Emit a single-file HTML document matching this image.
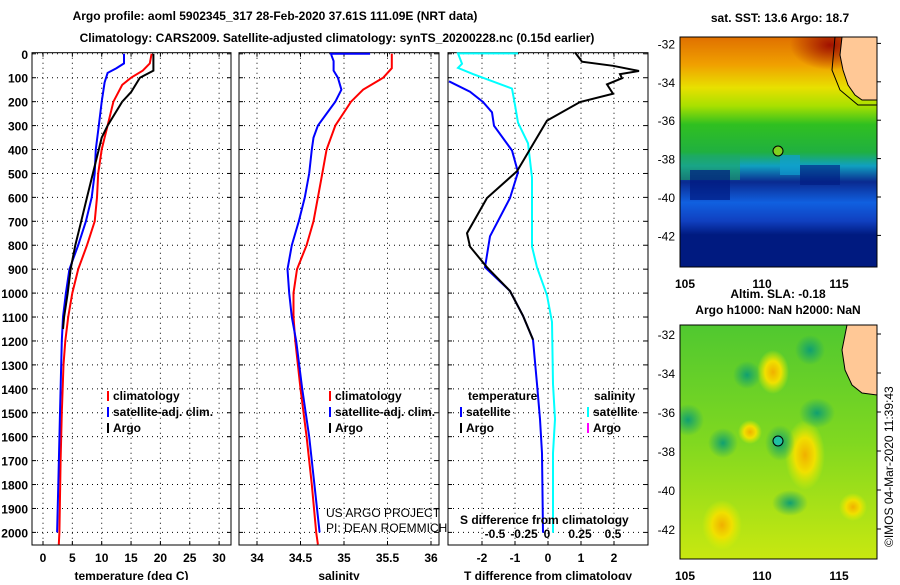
<!DOCTYPE html>
<html><head><meta charset="utf-8"><style>
body{margin:0;background:#fff;width:900px;height:580px;overflow:hidden}
svg text{font-family:"Liberation Sans",Arial,sans-serif;font-weight:bold;font-size:12px}
svg text.n{font-weight:normal}
</style></head><body>
<svg id="s" width="900" height="580" xmlns="http://www.w3.org/2000/svg">
<defs>
<linearGradient id="sst" x1="0" y1="0" x2="0" y2="1">
<stop offset="0" stop-color="#e07000"/><stop offset="0.12" stop-color="#f0a000"/><stop offset="0.22" stop-color="#e8e000"/><stop offset="0.3" stop-color="#a8e000"/><stop offset="0.38" stop-color="#30c020"/><stop offset="0.5" stop-color="#20b040"/><stop offset="0.56" stop-color="#10a0c0"/><stop offset="0.63" stop-color="#0a2a90"/><stop offset="0.72" stop-color="#1060e0"/><stop offset="0.8" stop-color="#1040c0"/><stop offset="0.86" stop-color="#001a80"/><stop offset="1" stop-color="#001a80"/>
</linearGradient>
<linearGradient id="sla" x1="0" y1="0" x2="0" y2="1">
<stop offset="0" stop-color="#50c830"/><stop offset="0.5" stop-color="#80d820"/><stop offset="1" stop-color="#c8e810"/>
</linearGradient>
<radialGradient id="gb"><stop offset="0" stop-color="#10a070"/><stop offset="1" stop-color="#10a070" stop-opacity="0"/></radialGradient>
<radialGradient id="yb"><stop offset="0" stop-color="#f0b000"/><stop offset="0.5" stop-color="#f0e000"/><stop offset="1" stop-color="#e0f000" stop-opacity="0"/></radialGradient>
<radialGradient id="rb"><stop offset="0" stop-color="#a01000"/><stop offset="1" stop-color="#a01000" stop-opacity="0"/></radialGradient>
<clipPath id="c1"><rect x="680" y="37" width="197" height="230"/></clipPath>
<clipPath id="c2"><rect x="680" y="325" width="197" height="234"/></clipPath>
</defs>
<text x="275" y="20" text-anchor="middle" font-size="13">Argo profile: aoml 5902345_317 28-Feb-2020 37.61S 111.09E (NRT data)</text>
<text x="337" y="42" text-anchor="middle" font-size="13">Climatology: CARS2009. Satellite-adjusted climatology: synTS_20200228.nc (0.15d earlier)</text>
<g id="p"></g>
<text x="780" y="22" text-anchor="middle">sat. SST: 13.6 Argo: 18.7</text>
<g clip-path="url(#c1)">
<rect x="680" y="37" width="197" height="230" fill="url(#sst)"/>
<ellipse cx="830" cy="45" rx="40" ry="25" fill="url(#rb)"/>
<rect x="680" y="155" width="60" height="25" fill="#20a860" opacity="0.6"/>
<rect x="690" y="170" width="40" height="30" fill="#001a80" opacity="0.7"/>
<rect x="780" y="155" width="20" height="20" fill="#10a0d0" opacity="0.7"/>
<rect x="800" y="165" width="40" height="20" fill="#001a80" opacity="0.6"/>
<path d="M842,37 L877,37 L877,100 L862,100 L855,95 L848,85 L843,70 L840,55 Z" fill="#ffc896" stroke="#000" stroke-width="1"/>
<path d="M835,37 L832,70 L840,90 L858,105 L877,105" fill="none" stroke="#000" stroke-width="1"/>
</g>
<circle cx="778" cy="151" r="5" fill="#80d020" stroke="#000"/>
<rect x="680" y="37" width="197" height="230" fill="none" stroke="#000"/>
<text x="778" y="298" text-anchor="middle">Altim. SLA: -0.18</text>
<text x="778" y="314" text-anchor="middle">Argo h1000: NaN h2000: NaN</text>
<g clip-path="url(#c2)">
<rect x="680" y="325" width="197" height="234" fill="url(#sla)"/>
<ellipse cx="773" cy="372" rx="16" ry="22" fill="url(#yb)"/>
<ellipse cx="750" cy="432" rx="12" ry="12" fill="url(#yb)"/>
<ellipse cx="805" cy="455" rx="20" ry="35" fill="url(#yb)"/>
<ellipse cx="853" cy="507" rx="14" ry="14" fill="url(#yb)"/>
<ellipse cx="722" cy="525" rx="20" ry="25" fill="url(#yb)"/>
<ellipse cx="747" cy="375" rx="14" ry="14" fill="url(#gb)"/>
<ellipse cx="688" cy="420" rx="16" ry="16" fill="url(#gb)"/>
<ellipse cx="723" cy="443" rx="15" ry="15" fill="url(#gb)"/>
<ellipse cx="780" cy="443" rx="15" ry="18" fill="url(#gb)"/>
<ellipse cx="817" cy="413" rx="18" ry="15" fill="url(#gb)"/>
<ellipse cx="810" cy="350" rx="15" ry="15" fill="url(#gb)"/>
<ellipse cx="790" cy="503" rx="18" ry="13" fill="url(#gb)"/>
<path d="M847,325 L877,325 L877,395 L862,393 L852,385 L845,370 L842,350 Z" fill="#ffc896" stroke="#000" stroke-width="1"/>
</g>
<circle cx="778" cy="441" r="5" fill="#20c0a0" stroke="#000"/>
<rect x="680" y="325" width="197" height="234" fill="none" stroke="#000"/>
<text class="n" x="893" y="547" transform="rotate(-90 893 547)" font-size="13">©IMOS 04-Mar-2020 11:39:43</text>
</svg>
<script>
(function(){
const NS="http://www.w3.org/2000/svg",g=document.getElementById('p');
function el(t,a,txt){const e=document.createElementNS(NS,t);for(const k in a)e.setAttribute(k,a[k]);if(txt!=null)e.textContent=txt;g.appendChild(e);return e}
const Y=d=>53.8+d*0.2393, T0=52.7,B0=545;
for(let d=0;d<=2000;d+=100){el('text',{x:28,y:Y(d)+5,'text-anchor':'end'},d)}
function panel(x0,x1,ticks,fx,labels,xlab,gridx){
 for(let d=0;d<=2000;d+=100){el('line',{x1:x0,x2:x1,y1:Y(d),y2:Y(d),stroke:'#000','stroke-dasharray':'1,4'});el('line',{x1:x0,x2:x0+4,y1:Y(d),y2:Y(d),stroke:'#000'});el('line',{x1:x1-4,x2:x1,y1:Y(d),y2:Y(d),stroke:'#000'})}
 gridx.forEach(v=>el('line',{x1:fx(v),x2:fx(v),y1:T0,y2:B0,stroke:'#000','stroke-dasharray':'1,4'}));
 ticks.forEach((v,i)=>{el('line',{x1:fx(v),x2:fx(v),y1:B0,y2:B0-4,stroke:'#000'});el('line',{x1:fx(v),x2:fx(v),y1:T0,y2:T0+4,stroke:'#000'});el('text',{x:fx(v),y:562,'text-anchor':'middle'},labels[i])});
 el('rect',{x:x0,y:T0,width:x1-x0,height:B0-T0,fill:'none',stroke:'#000'});
 el('text',{x:(x0+x1)/2,y:580,'text-anchor':'middle'},xlab);
}
function line(pts,fx,col,w){el('polyline',{points:pts.map(p=>fx(p[1]).toFixed(1)+','+Y(p[0]).toFixed(1)).join(' '),fill:'none',stroke:col,'stroke-width':w||2})}
const ft=v=>43+v*5.87;
panel(32,231,[0,5,10,15,20,25,30],ft,['0','5','10','15','20','25','30'],'temperature (deg C)',[0,5,10,15,20,25,30]);
line([[0,18.5],[40,18.2],[70,17],[100,15],[130,13.5],[200,12],[300,11],[350,10.5],[400,10],[500,9.4],[600,9.2],[700,8.8],[800,7.5],[900,6],[1000,5],[1100,4.3],[1200,3.8],[1300,3.5],[1500,3.2],[1700,3],[2000,2.8],[2050,2.7]],ft,'#f00');
line([[0,13.8],[40,13.8],[60,12.5],[80,11],[120,10.5],[200,10],[300,9.5],[400,9],[500,8.8],[600,8.3],[700,7.3],[800,6],[900,4.5],[1000,3.9],[1100,3.4],[1200,3.2],[1500,2.9],[1800,2.6],[2000,2.4]],ft,'#00f');
line([[0,18.8],[70,18.8],[100,16.5],[160,15],[200,13.5],[300,11],[350,10],[400,9.5],[500,8.5],[600,7.5],[700,6.5],[800,5.5],[900,4.7],[1000,4.2],[1100,3.6],[1150,3.4]],ft,'#000');
const fs=v=>257+(v-34)*87;
panel(239,439,[34,34.5,35,35.5,36],fs,['34','34.5','35','35.5','36'],'salinity',[34,34.5,35,35.5,36]);
line([[0,35.55],[60,35.55],[100,35.45],[150,35.22],[200,35.08],[300,34.9],[400,34.8],[500,34.75],[600,34.7],[700,34.65],[800,34.57],[900,34.46],[1000,34.42],[1100,34.42],[1200,34.44],[1400,34.5],[1600,34.57],[1800,34.63],[2000,34.68],[2050,34.7]],fs,'#f00');
line([[0,35.3],[0,34.85],[10,34.86],[30,34.88],[70,34.88],[100,34.93],[150,34.97],[200,34.9],[250,34.8],[300,34.7],[350,34.65],[400,34.63],[500,34.6],[600,34.55],[700,34.48],[800,34.4],[900,34.35],[1000,34.37],[1100,34.4],[1200,34.45],[1400,34.52],[1600,34.6],[1800,34.66],[2000,34.72]],fs,'#00f');
const fd=v=>548+v*33;
panel(448,648,[-2,-1,0,1,2],fd,['-2','-1','0','1','2'],'T difference from climatology',[-2,-1,0,1,2]);
function pl(arr,col){el('polyline',{points:arr.map(p=>p[0]+','+(40+(p[1]-40)*1.033).toFixed(1)).join(' '),fill:'none',stroke:col,'stroke-width':2})}
pl([[518,53],[458,53],[462,63],[458,67],[473,73],[512,87],[515,103],[518,120],[528,140],[532,173],[532,240],[537,260],[547,287],[552,313],[553,373],[555,407],[553,440],[553,517]],'#0ff');
pl([[449,80],[470,90],[483,100],[492,110],[494,123],[512,147],[518,168],[510,193],[490,230],[485,260],[510,283],[523,307],[533,330],[537,373],[540,407],[542,440],[543,517]],'#00f');
pl([[575,52],[582,61],[613,65],[639,70],[620,73],[622,77],[607,83],[613,92],[580,100],[547,118],[517,167],[487,193],[467,227],[470,240],[487,260],[510,283],[523,307],[533,330]],'#000');
function leg(x,y,items){items.forEach((it,i)=>{el('line',{x1:x,x2:x,y1:y+i*16-10,y2:y+i*16,stroke:it[1],'stroke-width':2});if(it[0])el('text',{x:x+5,y:y+i*16-1},it[0])})}
leg(108,401,[['climatology','#f00'],['satellite-adj. clim.','#00f'],['Argo','#000']]);
leg(330,401,[['climatology','#f00'],['satellite-adj. clim.','#00f'],['Argo','#000']]);
el('text',{x:468,y:400},'temperature');el('text',{x:594,y:400},'salinity');
leg(461,417,[['satellite','#00f'],['Argo','#000']]);
leg(588,417,[['satellite','#0ff'],['Argo','#f0f']]);
el('text',{x:460,y:524},'S difference from climatology');
[['-0.5',495],['-0.25',524],['0',547],['0.25',580],['0.5',613]].forEach(a=>el('text',{x:a[1],y:538,'text-anchor':'middle'},a[0]));
[['US ARGO PROJECT',517],['PI: DEAN ROEMMICH',532]].forEach(a=>el('text',{x:326,y:a[1],'class':'n'},a[0]));
function maxes(x0,x1,yb,lat0,latStep,ybot){[[105,685],[110,762],[115,839]].forEach(a=>{el('text',{x:a[1],y:ybot,'text-anchor':'middle'},a[0]);el('line',{x1:a[1],x2:a[1],y1:yb,y2:yb-3,stroke:'#000'})});
 for(let i=0;i<6;i++){const yy=lat0+i*latStep;el('text',{x:x0-5,y:yy+5,'text-anchor':'end','class':'n','font-size':'13'},-32-2*i);el('line',{x1:x1,x2:x1+4,y1:yy,y2:yy,stroke:'#000'})}}
maxes(680,877,267,43.4,38.4,288);
maxes(680,877,559,334,39,580);
})();
</script>
</body></html>
